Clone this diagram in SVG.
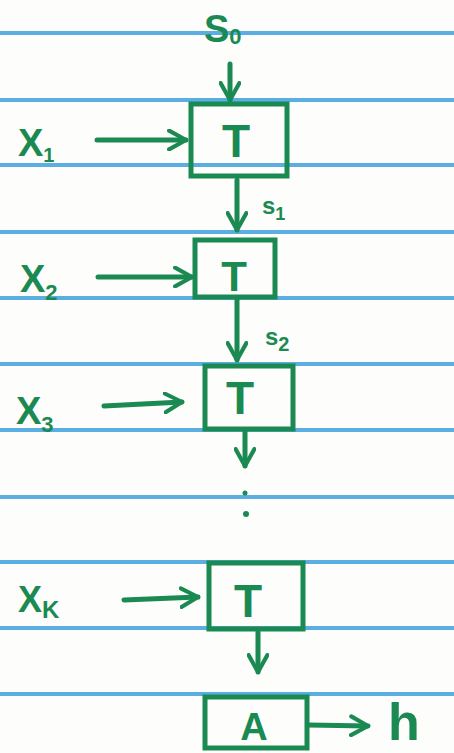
<svg xmlns="http://www.w3.org/2000/svg" width="454" height="753" viewBox="0 0 454 753">
<defs>
<style>
.rule{stroke:#5aaee2;stroke-width:4}
.ink{stroke:#1b8a52;stroke-width:5;fill:none;stroke-linecap:round;stroke-linejoin:round}
.box{stroke:#1b8a52;stroke-width:5;fill:none}
.t{font-family:"Liberation Sans",Arial,sans-serif;font-weight:bold;fill:#1b8a52}
</style>
<marker id="ah" viewBox="0 0 12 12" refX="10" refY="6" markerWidth="4.5" markerHeight="4.5" orient="auto" markerUnits="strokeWidth">
<path d="M1,1 L10,6 L1,11" fill="none" stroke="#1b8a52" stroke-width="2.2" stroke-linecap="round" stroke-linejoin="round"/>
</marker>
</defs>
<rect width="454" height="753" fill="#fdfdfb"/>
<g id="paper">
<line class="rule" x1="0" y1="33" x2="454" y2="33"/>
<line class="rule" x1="0" y1="100" x2="454" y2="100"/>
<line class="rule" x1="0" y1="165" x2="454" y2="165"/>
<line class="rule" x1="0" y1="232" x2="454" y2="232"/>
<line class="rule" x1="0" y1="298" x2="454" y2="298"/>
<line class="rule" x1="0" y1="364" x2="454" y2="364"/>
<line class="rule" x1="0" y1="430" x2="454" y2="430"/>
<line class="rule" x1="0" y1="497" x2="454" y2="497"/>
<line class="rule" x1="0" y1="562" x2="454" y2="562"/>
<line class="rule" x1="0" y1="628" x2="454" y2="628"/>
<line class="rule" x1="0" y1="694" x2="454" y2="694"/>
</g>
<g id="connectors">
<line class="ink" x1="230" y1="64" x2="230" y2="100" marker-end="url(#ah)"/>
<line class="ink" x1="97" y1="140" x2="186" y2="140" marker-end="url(#ah)"/>
<line class="ink" x1="237" y1="180" x2="237" y2="230" marker-end="url(#ah)"/>
<line class="ink" x1="98" y1="277" x2="192" y2="277" marker-end="url(#ah)"/>
<line class="ink" x1="237" y1="300" x2="237" y2="360" marker-end="url(#ah)"/>
<line class="ink" x1="104" y1="406" x2="182" y2="402" marker-end="url(#ah)"/>
<line class="ink" x1="245" y1="432" x2="245" y2="466" marker-end="url(#ah)"/>
<line class="ink" x1="124" y1="600" x2="198" y2="597" marker-end="url(#ah)"/>
<line class="ink" x1="258" y1="632" x2="258" y2="672" marker-end="url(#ah)"/>
<line class="ink" x1="308" y1="725" x2="368" y2="726" marker-end="url(#ah)"/>
<circle cx="245" cy="493" r="2.5" fill="#1b8a52"/>
<circle cx="246" cy="514" r="3" fill="#1b8a52"/>
</g>
<g id="node-s0"><text class="t" x="204" y="42" font-size="38">S<tspan font-size="22" dy="2">0</tspan></text></g>
<g id="node-x1"><text class="t" x="18" y="156" font-size="38">X<tspan font-size="20" dy="6">1</tspan></text></g>
<g id="node-t1"><rect class="box" x="191" y="104" width="96" height="72"/><text class="t" x="236" y="157" font-size="46" text-anchor="middle">T</text></g>
<g id="node-s1"><text class="t" x="262" y="214" font-size="24">s<tspan font-size="18" dy="6">1</tspan></text></g>
<g id="node-x2"><text class="t" x="20" y="292" font-size="38">X<tspan font-size="22" dy="8">2</tspan></text></g>
<g id="node-t2"><rect class="box" x="195" y="240" width="80" height="57"/><text class="t" x="234" y="291" font-size="42" text-anchor="middle">T</text></g>
<g id="node-s2"><text class="t" x="265" y="345" font-size="24">s<tspan font-size="20" dy="6">2</tspan></text></g>
<g id="node-x3"><text class="t" x="16" y="424" font-size="38">X<tspan font-size="22" dy="8">3</tspan></text></g>
<g id="node-t3"><rect class="box" x="205" y="366" width="88" height="63"/><text class="t" x="240" y="414" font-size="46" text-anchor="middle">T</text></g>
<g id="node-xk"><text class="t" x="18" y="612" font-size="36">X<tspan font-size="24" dy="6">K</tspan></text></g>
<g id="node-tk"><rect class="box" x="209" y="563" width="94" height="66"/><text class="t" x="248" y="617" font-size="46" text-anchor="middle">T</text></g>
<g id="node-a"><rect class="box" x="205" y="697" width="102" height="51"/><text class="t" x="254" y="740" font-size="38" text-anchor="middle">A</text></g>
<g id="node-h"><text class="t" x="388" y="740" font-size="52" font-weight="normal">h</text></g>
</svg>
